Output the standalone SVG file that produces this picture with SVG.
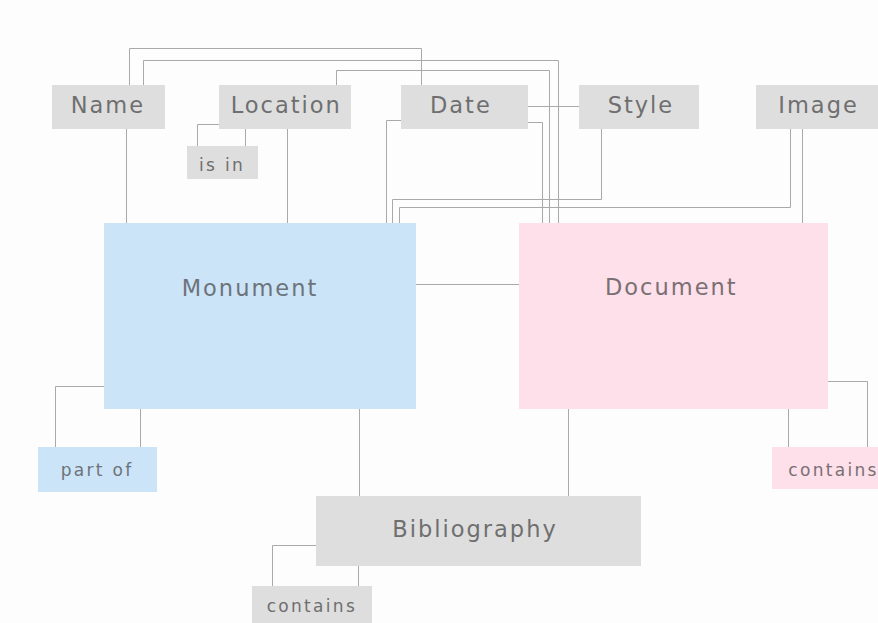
<svg xmlns="http://www.w3.org/2000/svg" width="878" height="623" viewBox="0 0 878 623">
<style>
.g{fill:#dedede}
.b{fill:#cce4f8}
.p{fill:#fde0ea}
.t{font-family:"DejaVu Sans",Verdana,sans-serif;fill:#6f6f6f}
.L{font-size:22.5px;letter-spacing:2px}
.S{font-size:17px;letter-spacing:2.3px}
#connectors path{fill:none;stroke:#a9a9a9;stroke-width:1}
</style>
<rect width="878" height="623" fill="#fdfdfd"/>
<g id="connectors">
<path d="M129.5 85V48.5H421.5V85"/>
<path d="M143.5 85V60.5H558.5V223"/>
<path d="M336.5 85V70.5H549.5V223"/>
<path d="M528 122.5H542.5V223"/>
<path d="M401 120.5H386.5V223"/>
<path d="M528 106.5H579"/>
<path d="M601.5 129V199.5H392.5V223"/>
<path d="M790.5 129V207.5H399.5V223"/>
<path d="M802.5 129V223"/>
<path d="M126.5 129V223"/>
<path d="M287.5 129V223"/>
<path d="M219 124.5H197.5V146"/>
<path d="M245.5 129V146"/>
<path d="M416 284.5H519"/>
<path d="M104 386.5H55.5V447"/>
<path d="M140.5 409V447"/>
<path d="M359.5 409V496"/>
<path d="M568.5 409V496"/>
<path d="M316 545.5H272.5V586"/>
<path d="M358.5 566V586"/>
<path d="M828 381.5H867.5V447"/>
<path d="M788.5 409V447"/>
</g>
<g id="name"><rect class="g" x="52" y="85" width="113" height="44"/><text class="t L" x="70.7" y="112.7">Name</text></g>
<g id="location"><rect class="g" x="219" y="85" width="132" height="44"/><text class="t L" x="230.7" y="112.7">Location</text></g>
<g id="date"><rect class="g" x="401" y="85" width="127" height="44"/><text class="t L" x="430" y="112.7">Date</text></g>
<g id="style"><rect class="g" x="579" y="85" width="120" height="44"/><text class="t L" x="607.7" y="112.7">Style</text></g>
<g id="image"><rect class="g" x="756" y="85" width="122" height="44"/><text class="t L" x="778.3" y="112.7">Image</text></g>
<g id="isin"><rect class="g" x="187" y="146" width="71" height="33"/><text class="t S" x="199" y="171">is in</text></g>
<g id="monument"><rect class="b" x="104" y="223" width="312" height="186"/><text class="t L" x="181.7" y="296" style="fill:#6d737a">Monument</text></g>
<g id="document"><rect class="p" x="519" y="223" width="309" height="186"/><text class="t L" x="605" y="295" style="fill:#7a6f74">Document</text></g>
<g id="partof"><rect class="b" x="38" y="447" width="119" height="45"/><text class="t S" x="60.7" y="476.3" style="fill:#6d737a">part of</text></g>
<g id="contains-doc"><rect class="p" x="772" y="447" width="106" height="42"/><text class="t S" x="788.3" y="476" style="fill:#7a6f74">contains</text></g>
<g id="bibliography"><rect class="g" x="316" y="496" width="325" height="70"/><text class="t L" x="392.3" y="536.7">Bibliography</text></g>
<g id="contains-bib"><rect class="g" x="252" y="586" width="120" height="40"/><text class="t S" x="266.7" y="611.7">contains</text></g>
</svg>
